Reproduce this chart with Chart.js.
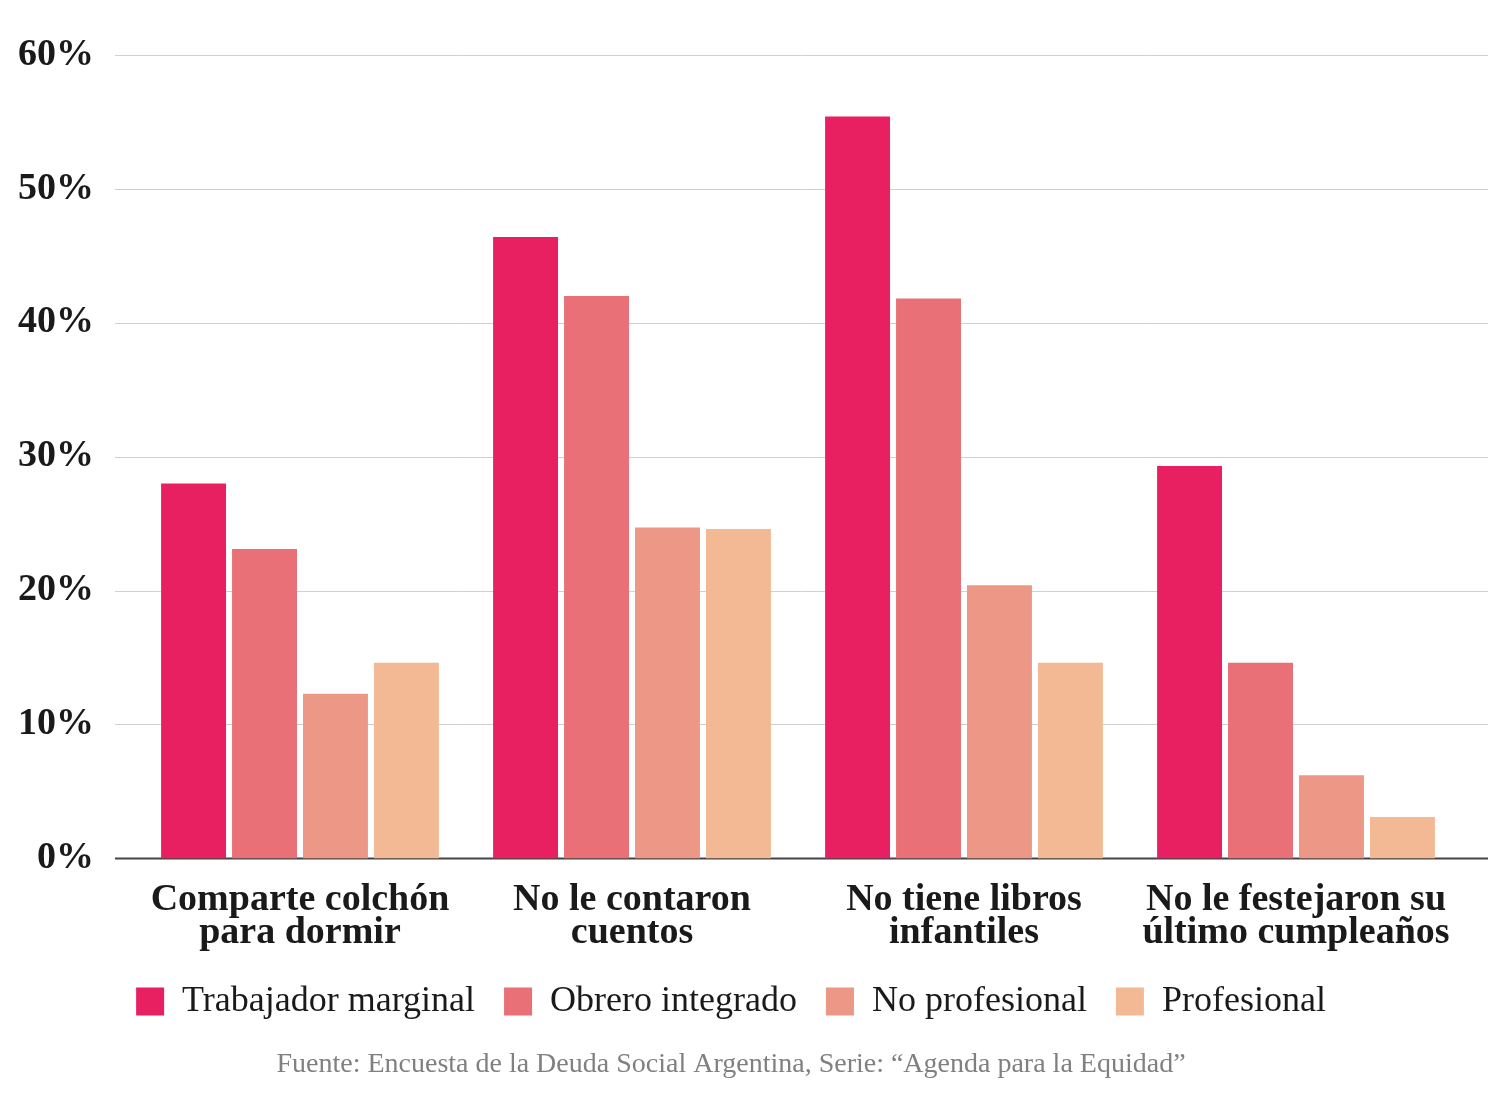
<!DOCTYPE html>
<html>
<head>
<meta charset="utf-8">
<script src="https://cdn.jsdelivr.net/npm/chart.js@4"></script>
<style>
  html, body { margin: 0; padding: 0; background: #fff; }
  #wrap { width: 1500px; height: 1094px; }
</style>
</head>
<body>
<div id="wrap"><canvas id="grafico"></canvas></div>
<script>
// Datos
const categorias = [
  ['Comparte colchón', 'para dormir'],
  ['No le contaron', 'cuentos'],
  ['No tiene libros', 'infantiles'],
  ['No le festejaron su', 'último cumpleaños']
];
const trabajadorMarginal = [28.0, 46.4, 55.4, 29.3];
const obreroIntegrado = [23.1, 42.0, 41.8, 14.6];
const noProfesional = [12.3, 24.7, 20.4, 6.2];
const profesional = [14.6, 24.6, 14.6, 3.1];
const ticksY = [0, 10, 20, 30, 40, 50, 60];
const fuente = 'Fuente: Encuesta de la Deuda Social Argentina, Serie: “Agenda para la Equidad”';

const serif = '"Liberation Serif", "DejaVu Serif", serif';

// líneas de la grilla más anchas que el área del gráfico
const grilla = {
  id: 'grilla',
  beforeDatasetsDraw(chart) {
    const { ctx, scales: { y } } = chart;
    ctx.save();
    ticksY.forEach(v => {
      const py = Math.round(y.getPixelForValue(v)) + 0.5;
      ctx.beginPath();
      ctx.moveTo(115, py);
      ctx.lineTo(1488, py);
      ctx.strokeStyle = v === 0 ? '#444' : '#d0d0d0';
      ctx.lineWidth = v === 0 ? 2 : 1;
      ctx.stroke();
    });
    ctx.restore();
  }
};

const ctx = document.getElementById('grafico').getContext('2d');
new Chart(ctx, {
  type: 'bar',
  data: {
    labels: categorias,
    datasets: [
      { label: 'Trabajador marginal', data: trabajadorMarginal, backgroundColor: '#e82062' },
      { label: 'Obrero integrado', data: obreroIntegrado, backgroundColor: '#e87076' },
      { label: 'No profesional', data: noProfesional, backgroundColor: '#ed9787' },
      { label: 'Profesional', data: profesional, backgroundColor: '#f2b994' }
    ]
  },
  options: {
    responsive: true,
    maintainAspectRatio: false,
    animation: false,
    layout: { padding: { top: 25, left: 0, right: 38, bottom: 13 } },
    datasets: {
      bar: { categoryPercentage: 0.855, barPercentage: 0.915 }
    },
    scales: {
      x: {
        grid: { display: false },
        border: { display: false },
        afterFit: axis => { axis.height = 96; },
        ticks: {
          color: '#1a1a1a',
          padding: 17,
          font: { family: serif, size: 38, weight: 'bold', lineHeight: 0.87 }
        }
      },
      y: {
        min: 0,
        max: 60,
        grid: { display: false },
        border: { display: false },
        afterFit: axis => { axis.width = 134; },
        afterBuildTicks: axis => { axis.ticks = ticksY.map(v => ({ value: v })); },
        ticks: {
          color: '#1a1a1a',
          padding: 32,
          font: { family: serif, size: 38, weight: 'bold' },
          callback: v => v + '%'
        }
      }
    },
    plugins: {
      legend: {
        position: 'bottom',
        labels: {
          color: '#1a1a1a',
          boxWidth: 28,
          boxHeight: 28,
          padding: 29,
          font: { family: serif, size: 36 }
        }
      },
      title: {
        display: true,
        position: 'bottom',
        text: fuente,
        color: '#808080',
        padding: { top: 18, bottom: 0 },
        font: { family: serif, size: 28, weight: 'normal' }
      },
      tooltip: { enabled: false }
    }
  },
  plugins: [grilla]
});
</script>
</body>
</html>
